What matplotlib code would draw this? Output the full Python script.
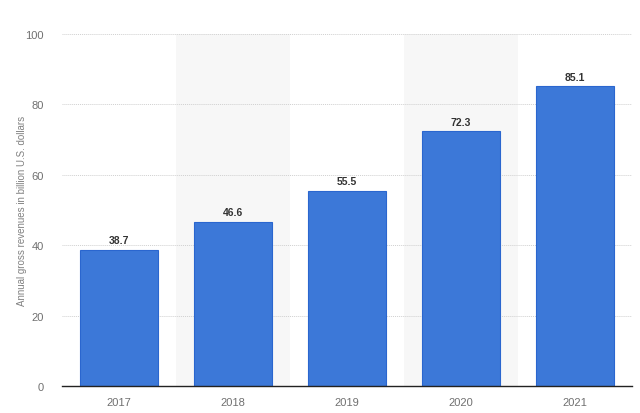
import matplotlib
matplotlib.use("Agg")
import matplotlib.pyplot as plt

plt.rcParams["font.family"] = ["Liberation Sans", "DejaVu Sans"]

years = ["2017", "2018", "2019", "2020", "2021"]
revenues = [38.7, 46.6, 55.5, 72.3, 85.1]

fig = plt.figure(figsize=(6.4, 4.14), dpi=100)
ax = fig.add_axes([0.097, 0.0652, 0.8905, 0.8503])

x = list(range(len(years)))

# shaded background for every other category
for i in x:
    if i % 2 == 1:
        ax.axvspan(i - 0.5, i + 0.5, color="#f7f7f7", zorder=0, lw=0)

bars = ax.bar(x, revenues, width=0.68, color="#3c78d8", edgecolor="#2a66cf",
              linewidth=0.8, zorder=3)

for xi, v in zip(x, revenues):
    ax.text(xi, v + 1.3, f"{v}", ha="center", va="bottom", fontsize=7.5,
            fontweight="bold", color="#333333", zorder=4)

ax.set_xlim(-0.5, 4.5)
ax.set_ylim(0, 100)
ax.set_yticks(range(0, 101, 20))
ax.set_xticks(x)
ax.set_xticklabels(years)
ax.tick_params(axis="both", length=0, labelsize=8, colors="#707070")
ax.tick_params(axis="y", pad=13)
ax.tick_params(axis="x", pad=8)

ax.yaxis.grid(True, linestyle=(0, (1, 1)), color="#d0d0d0", linewidth=0.7, zorder=1)
ax.set_axisbelow(True)

for side in ["top", "right", "left"]:
    ax.spines[side].set_visible(False)
ax.spines["bottom"].set_color("#222222")
ax.spines["bottom"].set_linewidth(1)
ax.spines["bottom"].set_zorder(5)

ax.set_ylabel("Annual gross revenues in billion U.S. dollars", fontsize=7,
              color="#808080")
ax.yaxis.set_label_coords(-0.062, 0.5)

fig.savefig("out.png", dpi=100)
